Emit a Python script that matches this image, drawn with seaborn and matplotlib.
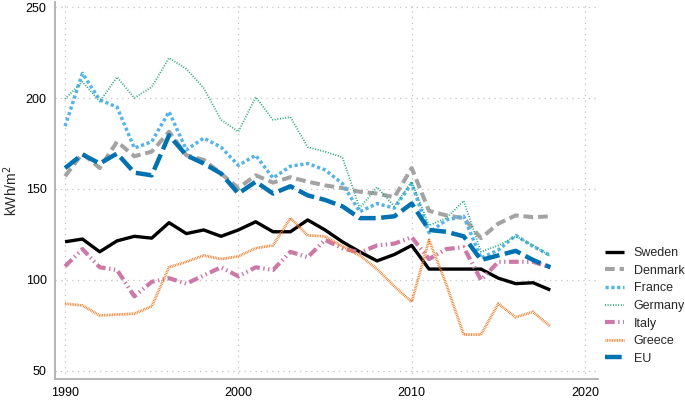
import pandas as pd
import matplotlib
matplotlib.use("Agg")
import matplotlib.pyplot as plt
import seaborn as sns

years = list(range(1990, 2019))

sweden = [121, 122.5, 115.5, 121.5, 124, 123, 131.5, 125.5, 127.5, 124, 127.5,
          132, 126.5, 126.5, 133, 127.5, 121, 115.5, 110.5, 114, 119,
          106, 106, 106, 106, 101, 98, 98.5, 94.5]
denmark = [157, 169.5, 161.5, 176, 168, 170.5, 181.5, 168.5, 166, 158.5, 150.5,
           157.5, 153.5, 156.5, 154, 152, 150.5, 148.5, 147.5, 145.5, 161.5,
           138, 135.5, 134, 123, 131, 135.5, 134.5, 135]
france = [184.5, 213.5, 199, 195, 172.5, 176, 192.5, 171.5, 178, 173, 163,
          168.5, 156, 162.5, 164, 160.5, 153, 137.5, 142, 139.5, 153,
          126, 133, 135, 112, 116.5, 124.5, 118.5, 113.5]
germany = [199.5, 209, 198, 211.5, 200, 206, 222, 216, 205.5, 188, 181.5,
           200.5, 188, 189.5, 173, 170.5, 167.5, 139.5, 151, 140.5, 154,
           130, 134, 143.5, 115.5, 119, 124, 119, 113]
italy = [107.5, 117, 107, 105.5, 91, 99, 101, 98, 102.5, 107, 102,
         107, 105.5, 115.5, 112.5, 122, 117.5, 115, 119, 120, 123.5,
         111.5, 117, 118, 100, 110, 110, 110, 107]
greece = [87, 86, 80.5, 81, 81.5, 85.5, 107, 110, 113.5, 111.5, 113,
          117.5, 119, 134, 124.5, 124, 118.5, 113.5, 106, 96.5, 88,
          122, 97.5, 70, 70, 87, 79.5, 82.5, 74.5]
eu = [161.5, 169, 164, 169.5, 159, 157.5, 179.5, 168.5, 164, 158.5, 147.5,
      154, 147.5, 151.5, 146.5, 144, 140.5, 134, 134, 135, 142,
      127.5, 126.5, 124, 111, 113.5, 116, 111, 107]

series = {"Sweden": sweden, "Denmark": denmark, "France": france,
          "Germany": germany, "Italy": italy, "Greece": greece, "EU": eu}

# colour, width (pt), dash pattern (pt, not scaled)
styles = {
    "Sweden": ("#000000", 2.4, None),
    "Denmark": ("#a3a3a3", 2.9, (7, 3.5)),
    "France": ("#56b4e9", 2.5, (2.3, 1.9)),
    "Germany": ("#1fa57a", 1.3, (0.7, 1.2)),
    "Italy": ("#cc79a7", 3.0, (7, 2.5, 1, 2.5, 1, 2.5)),
    "Greece": ("#ef7d28", 2.0, (0.6, 0.6)),
    "EU": ("#0072b2", 3.2, (12, 4)),
}

df = pd.DataFrame({"year": years, **series}).melt(id_vars="year", var_name="country", value_name="kwh")

sns.set_style("white")
plt.rcParams["font.family"] = ["Liberation Sans", "DejaVu Sans"]
plt.rcParams["lines.scale_dashes"] = False

fig = plt.figure(figsize=(6.85, 4), dpi=100)
ax = fig.add_axes([55 / 685, 21 / 400, 543 / 685, 377 / 400])

for name in series:
    color, lw, dash = styles[name]
    sub = df[df["country"] == name]
    sns.lineplot(data=sub, x="year", y="kwh", ax=ax, color=color, linewidth=lw, label=name)
    line = ax.lines[-1]
    line.set_dash_capstyle("butt")
    line.set_solid_capstyle("butt")
    if dash is not None:
        line.set_dashes(dash)

ax.set_xlim(1989.42, 2020.75)
ax.set_ylim(45.6, 252.75)
ax.set_xticks([1990, 2000, 2010, 2020])
ax.set_yticks([50, 100, 150, 200, 250])
ax.grid(True, linestyle=(0, (1, 3)), color="#c8c8c8", linewidth=0.9)
for s in ["top", "right"]:
    ax.spines[s].set_visible(False)
for s in ["left", "bottom"]:
    ax.spines[s].set_color("#b0b0b0")
    ax.spines[s].set_linewidth(1.3)
ax.tick_params(axis="both", which="both", direction="out", length=4, width=1,
               color="#b0b0b0", labelsize=9, labelcolor="black")
ax.tick_params(axis="x", pad=1.5)
ax.tick_params(axis="y", pad=2)
ax.set_xlabel("")
ax.set_ylabel(r"kWh/m$^2$", fontsize=10)
ax.yaxis.set_label_coords(-0.064, 0.5)

ax.legend(loc="upper left", bbox_to_anchor=(605 / 685, 1 - 247 / 400),
          bbox_transform=fig.transFigure, frameon=False, fontsize=9,
          handlelength=1.5, handletextpad=0.8, labelspacing=0.45, borderpad=0,
          borderaxespad=0)

fig.savefig("out.png", dpi=100)
